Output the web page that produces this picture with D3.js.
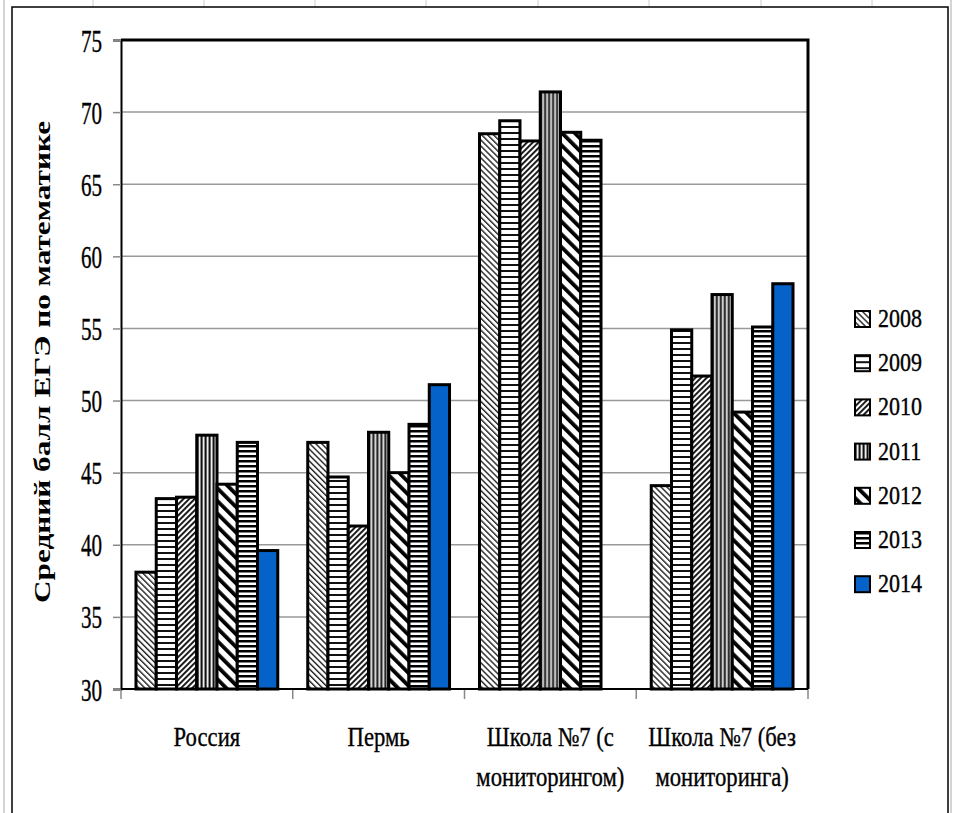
<!DOCTYPE html>
<html>
<head>
<meta charset="utf-8">
<script src="https://cdn.jsdelivr.net/npm/d3@7"></script>
<style>
  body { margin: 0; background: #fff; }
</style>
</head>
<body>
<div id="chart"></div>
<script>
// data
const categories = ["Россия", "Пермь", "Школа №7 (с|мониторингом)", "Школа №7 (без|мониторинга)"];
const years = ["2008", "2009", "2010", "2011", "2012", "2013", "2014"];
const values2008 = [38.1, 47.1, 68.5, 44.1];
const values2009 = [43.2, 44.7, 69.4, 54.9];
const values2010 = [43.3, 41.3, 68.0, 51.7];
const values2011 = [47.6, 47.8, 71.4, 57.35];
const values2012 = [44.2, 45.0, 68.6, 49.2];
const values2013 = [47.1, 48.35, 68.05, 55.1];
const values2014 = [39.6, 51.1, null, 58.1];
const yTicks = [30, 35, 40, 45, 50, 55, 60, 65, 70, 75];
const yTitle = "Средний балл ЕГЭ по математике";

const series = [values2008, values2009, values2010, values2011, values2012, values2013, values2014];
const FONT = "'Liberation Serif', 'DejaVu Serif', serif";

const W = 953, H = 813;
const margin = { top: 40, left: 121, right: W - 808, bottom: H - 689 };

const svg = d3.select("#chart").append("svg")
  .attr("width", W).attr("height", H);

// hatch patterns, one per year
const defs = svg.append("defs");
function hatch(id, size, angle, draw) {
  const p = defs.append("pattern").attr("id", id)
    .attr("patternUnits", "userSpaceOnUse")
    .attr("width", size).attr("height", size)
    .attr("patternTransform", `rotate(${angle})`);
  p.append("rect").attr("width", size).attr("height", size).attr("fill", "#fff");
  draw(p, size);
}
hatch("p2008", 4.2, -45, (p, s) => p.append("rect").attr("x", 0).attr("width", 1.4).attr("height", s).attr("fill", "#222"));
hatch("p2009", 6, 0, (p, s) => p.append("rect").attr("y", 0).attr("width", s).attr("height", 2).attr("fill", "#111"));
hatch("p2010", 4, 45, (p, s) => p.append("rect").attr("x", 0).attr("width", 1.9).attr("height", s).attr("fill", "#111"));
hatch("p2011", 4, 0, (p, s) => {
  p.append("rect").attr("width", s).attr("height", s).attr("fill", "#8a8a8a");
  p.append("rect").attr("x", 0).attr("width", 1.3).attr("height", s).attr("fill", "#111");
  p.append("rect").attr("x", 2).attr("width", 1).attr("height", s).attr("fill", "#eee");
});
hatch("p2012", 9, -45, (p, s) => p.append("rect").attr("x", 0).attr("width", 3.8).attr("height", s).attr("fill", "#000"));
hatch("p2013", 5, 0, (p, s) => p.append("rect").attr("y", 0).attr("width", s).attr("height", 2.5).attr("fill", "#000"));
const fills = ["url(#p2008)", "url(#p2009)", "url(#p2010)", "url(#p2011)", "url(#p2012)", "url(#p2013)", "#0562c8"];

// sheet frame
const frame = svg.append("g");
frame.append("line").attr("x1", 4).attr("x2", 4).attr("y1", 0).attr("y2", H).attr("stroke", "#aaa");
frame.append("line").attr("x1", 951).attr("x2", 951).attr("y1", 0).attr("y2", H).attr("stroke", "#aaa");
[93, 204, 315, 426, 538, 649, 761, 872].forEach(x =>
  frame.append("line").attr("x1", x).attr("x2", x).attr("y1", 0).attr("y2", 7).attr("stroke", "#ccc"));
frame.append("path").attr("d", `M12,${H} V7 H948 V${H}`)
  .attr("fill", "none").attr("stroke", "#000").attr("stroke-width", 1.5);

const x0 = d3.scaleBand().domain(categories).range([margin.left, W - margin.right]);
const x1 = d3.scaleBand().domain(years).range([0, x0.bandwidth()]).paddingOuter(0.74);
const y = d3.scaleLinear().domain([30, 75]).range([H - margin.bottom, margin.top]);

// gridlines
svg.append("g").selectAll("line").data(yTicks.filter(t => t > 30 && t < 75)).enter()
  .append("line")
  .attr("x1", margin.left).attr("x2", W - margin.right)
  .attr("y1", d => y(d)).attr("y2", d => y(d))
  .attr("stroke", "#999").attr("stroke-width", 1.5);

// y axis
const yAxis = svg.append("g").attr("transform", `translate(${margin.left},0)`)
  .call(d3.axisLeft(y).tickValues(yTicks).tickSize(8).tickFormat(d3.format("d")));
yAxis.select(".domain").attr("stroke", "#000").attr("stroke-width", 2);
yAxis.selectAll(".tick line").attr("stroke", "#888").attr("stroke-width", 1.5);
yAxis.selectAll(".tick text").remove();
yAxis.selectAll(".tick").append("text")
  .attr("transform", "translate(-19,11) scale(0.68,1)")
  .attr("text-anchor", "end")
  .style("font-family", FONT)
  .style("font-size", "31px")
  .attr("fill", "#000").attr("stroke", "#000").attr("stroke-width", 0.4)
  .text(d => d);

// x axis
const xAxis = svg.append("g").attr("transform", `translate(0,${y(30)})`);
xAxis.selectAll("line").data(x0.domain().map(c => x0(c)).concat([W - margin.right])).enter()
  .append("line")
  .attr("x1", d => d).attr("x2", d => d).attr("y1", 0).attr("y2", 10)
  .attr("stroke", "#888").attr("stroke-width", 1.5);
categories.forEach(c => {
  const lines = c.split("|");
  const g = xAxis.append("g").attr("transform", `translate(${x0(c) + x0.bandwidth() / 2},57)`);
  lines.forEach((ln, i) => {
    g.append("text")
      .attr("transform", `translate(0,${i * 40}) scale(0.84,1)`)
      .attr("text-anchor", "middle")
      .style("font-family", FONT)
      .style("font-size", "27px")
      .attr("stroke", "#000").attr("stroke-width", 0.35)
      .text(ln);
  });
});

// bars
const groups = svg.append("g").selectAll("g")
  .data(categories).enter().append("g")
  .attr("transform", d => `translate(${x0(d)},0)`);
groups.selectAll("rect")
  .data((c, ci) => years.map((yr, i) => ({ year: yr, i: i, value: series[i][ci] })).filter(d => d.value != null))
  .enter().append("rect")
  .attr("x", d => x1(d.year))
  .attr("width", x1.bandwidth())
  .attr("y", d => y(d.value))
  .attr("height", d => y(30) - y(d.value))
  .attr("fill", d => fills[d.i])
  .attr("stroke", "#000")
  .attr("stroke-width", 3);

// plot border: heavy top and right
svg.append("path")
  .attr("d", `M${margin.left},${margin.top} H${W - margin.right} V${y(30)}`)
  .attr("fill", "none").attr("stroke", "#000").attr("stroke-width", 3);
svg.append("line")
  .attr("x1", margin.left).attr("x2", W - margin.right)
  .attr("y1", y(30)).attr("y2", y(30))
  .attr("stroke", "#000").attr("stroke-width", 2);

// y title
svg.append("text")
  .attr("transform", "translate(50,362) rotate(-90)")
  .attr("text-anchor", "middle")
  .attr("textLength", 482)
  .attr("lengthAdjust", "spacingAndGlyphs")
  .style("font-family", FONT)
  .style("font-size", "24px")
  .style("font-weight", "bold")
  .text(yTitle);

// legend
const legend = svg.append("g").attr("transform", "translate(855,311)");
years.forEach((yr, i) => {
  const row = legend.append("g").attr("transform", `translate(0,${i * 44.2})`);
  row.append("rect").attr("width", 15).attr("height", 16)
    .attr("fill", fills[i]).attr("stroke", "#000").attr("stroke-width", 2);
  row.append("text")
    .attr("transform", "translate(23,16) scale(0.88,1)")
    .style("font-family", FONT)
    .style("font-size", "25px")
    .attr("stroke", "#000").attr("stroke-width", 0.35)
    .text(yr);
});
</script>
</body>
</html>
